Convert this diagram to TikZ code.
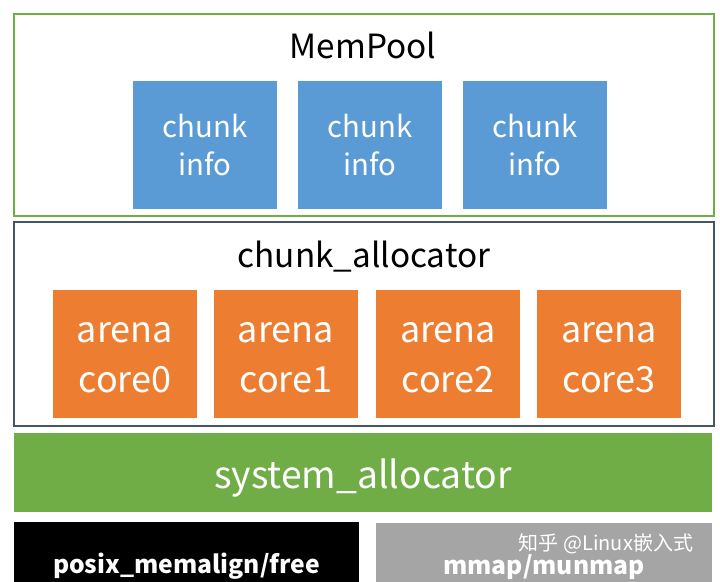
\documentclass[tikz,border=0pt]{standalone}
\usepackage{fontspec}
\setmainfont{Noto Sans CJK SC}
\definecolor{infoblue}{RGB}{91,155,213}
\definecolor{arenaorange}{RGB}{237,125,49}
\definecolor{poolgreen}{RGB}{112,173,71}
\definecolor{framegray}{RGB}{68,84,106}
\definecolor{mmapgray}{RGB}{165,165,165}

\begin{document}
\begin{tikzpicture}[x=0.75pt,y=0.75pt,yscale=-1,
  layer/.style={draw, line width=1.5pt, minimum width=525pt, inner sep=0pt},
  infobox/.style={fill=infoblue, text=white, minimum width=108pt, minimum height=96pt, inner sep=0pt, align=center, font=\fontsize{22}{28.5}\selectfont},
  arenabox/.style={fill=arenaorange, minimum width=108pt, minimum height=96pt, inner sep=0pt},
  title/.style={inner sep=0pt, font=\fontsize{25}{30}\selectfont},
  oslib/.style={text=white, minimum height=66pt, inner sep=0pt, font=\bfseries\fontsize{18.5}{22}\selectfont}]
\clip (0,0) rectangle (720,581);
\fill[white] (0,0) rectangle (720,581);

% MemPool layer
\node [layer, draw=poolgreen, minimum height=151.5pt] (mempool) at (364,115) {};
\node [title] (mempooltitle) at (363,45) {MemPool};
\node [infobox] (info0) at (205,145) {chunk\\info};
\node [infobox] (info1) at (370,145) {chunk\\info};
\node [infobox] (info2) at (535,145) {chunk\\info};

% chunk_allocator layer
\node [layer, draw=framegray, minimum height=153pt] (chunkalloc) at (364,324) {};
\node [title] (chunkalloctitle) at (364,257) {chunk\_allocator};
\node [arenabox] (arena0) at (125,354) {};
\node [arenabox] (arena1) at (286,354) {};
\node [arenabox] (arena2) at (448,354) {};
\node [arenabox] (arena3) at (609,354) {};
\foreach \i in {0,...,3}
  \node [text=white, align=center, inner sep=0pt, font=\fontsize{27}{37.5}\selectfont] (arenatext\i) at ([yshift=3pt]arena\i.center) {arena\\core\i};

% system_allocator layer
\node [fill=poolgreen, minimum width=523.5pt, minimum height=59.25pt, inner sep=0pt] (sysalloc) at (363,472.5) {};
\node [text=white, inner sep=0pt, font=\fontsize{28}{32}\selectfont] (sysalloctext) at (363,478) {system\_allocator};

% os interfaces
\node [oslib, fill=black, minimum width=258.75pt] (posix) at (186.5,566) {posix\_memalign/free};
\node [oslib, fill=mmapgray, minimum width=252pt] (mmap) at (544,567) {mmap/munmap};
\node [text=white, inner sep=0pt, font=\fontsize{15}{18}\selectfont] (mark) at (606,544) {知乎 @Linux嵌入式};
\end{tikzpicture}
\end{document}
